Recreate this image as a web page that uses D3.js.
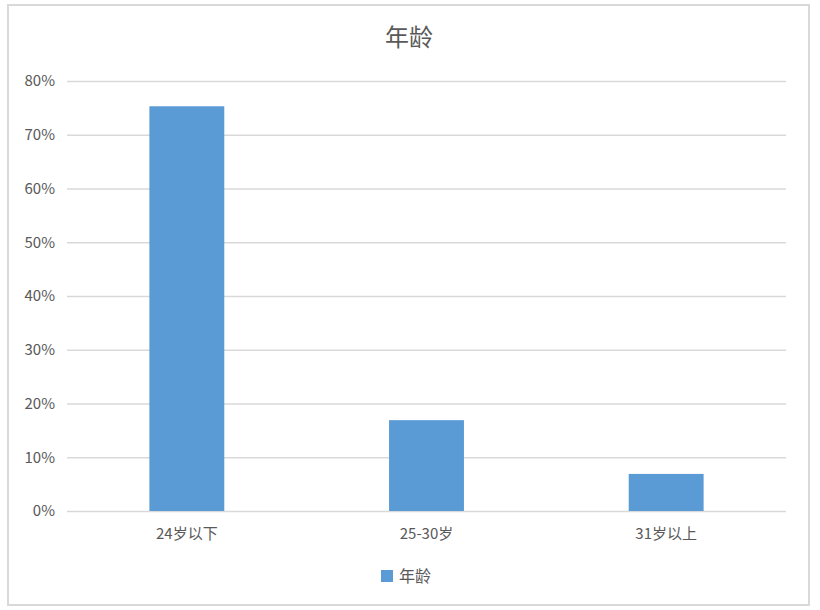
<!DOCTYPE html>
<html lang="zh">
<head>
  <meta charset="UTF-8" />
  <title>年龄</title>
  <script src="https://d3js.org/d3.v7.min.js"></script>
  <style>
    body { margin: 0; background: #ffffff; }
    svg { display: block; }
    text { font-family: "Noto Sans CJK SC", "Liberation Sans", sans-serif; fill: #595959; }
  </style>
</head>
<body>
<svg width="820" height="610"></svg>
<script>
  // Data
  const categories = ["24岁以下", "25-30岁", "31岁以上"];
  const values = [0.753, 0.169, 0.069];
  const yTicks = [0, 0.1, 0.2, 0.3, 0.4, 0.5, 0.6, 0.7, 0.8];
  const seriesName = "年龄";
  const titleText = "年龄";

  const svg = d3.select("svg");
  const margin = { top: 81, right: 34, bottom: 99, left: 67 };
  const width = 820, height = 610;
  const chartWidth = width - margin.left - margin.right;
  const chartHeight = height - margin.top - margin.bottom;

  // Outer frame
  svg.append("rect")
    .attr("x", 8).attr("y", 5)
    .attr("width", 801).attr("height", 600)
    .attr("fill", "#fff")
    .attr("stroke", "#d9d9d9")
    .attr("stroke-width", 2);

  const g = svg.append("g").attr("transform", `translate(${margin.left},${margin.top})`);

  const x = d3.scaleBand().domain(categories).range([0, chartWidth])
    .paddingInner(0.6875).paddingOuter(0.34375);
  const y = d3.scaleLinear().domain([0, 0.8]).range([chartHeight, 0]);

  // Gridlines + y labels
  const yAxis = g.append("g")
    .call(d3.axisLeft(y).tickValues(yTicks).tickFormat(d3.format(".0%")).tickSize(-chartWidth).tickPadding(12));
  yAxis.select(".domain").remove();
  yAxis.selectAll("line").attr("stroke", "#d9d9d9").attr("stroke-width", 1.3);
  yAxis.selectAll("text").style("font-size", "15px").style("fill", "#595959");

  // Bars
  g.selectAll("rect.bar")
    .data(values)
    .enter()
    .append("rect")
    .attr("class", "bar")
    .attr("x", (d, i) => x(categories[i]))
    .attr("y", d => y(d))
    .attr("width", x.bandwidth())
    .attr("height", d => chartHeight - y(d))
    .attr("fill", "#5b9bd5");

  // x labels
  const xAxis = g.append("g")
    .attr("transform", `translate(0,${chartHeight})`)
    .call(d3.axisBottom(x).tickSize(0).tickPadding(17));
  xAxis.select(".domain").remove();
  xAxis.selectAll("text").style("font-size", "15px").style("fill", "#595959");

  // Title
  svg.append("text")
    .attr("x", 409).attr("y", 46)
    .attr("text-anchor", "middle")
    .style("font-size", "24px")
    .text(titleText);

  // Legend
  svg.append("rect")
    .attr("x", 381).attr("y", 570)
    .attr("width", 12).attr("height", 12)
    .attr("fill", "#5b9bd5");
  svg.append("text")
    .attr("x", 399).attr("y", 582)
    .style("font-size", "16px")
    .text(seriesName);
</script>
</body>
</html>
